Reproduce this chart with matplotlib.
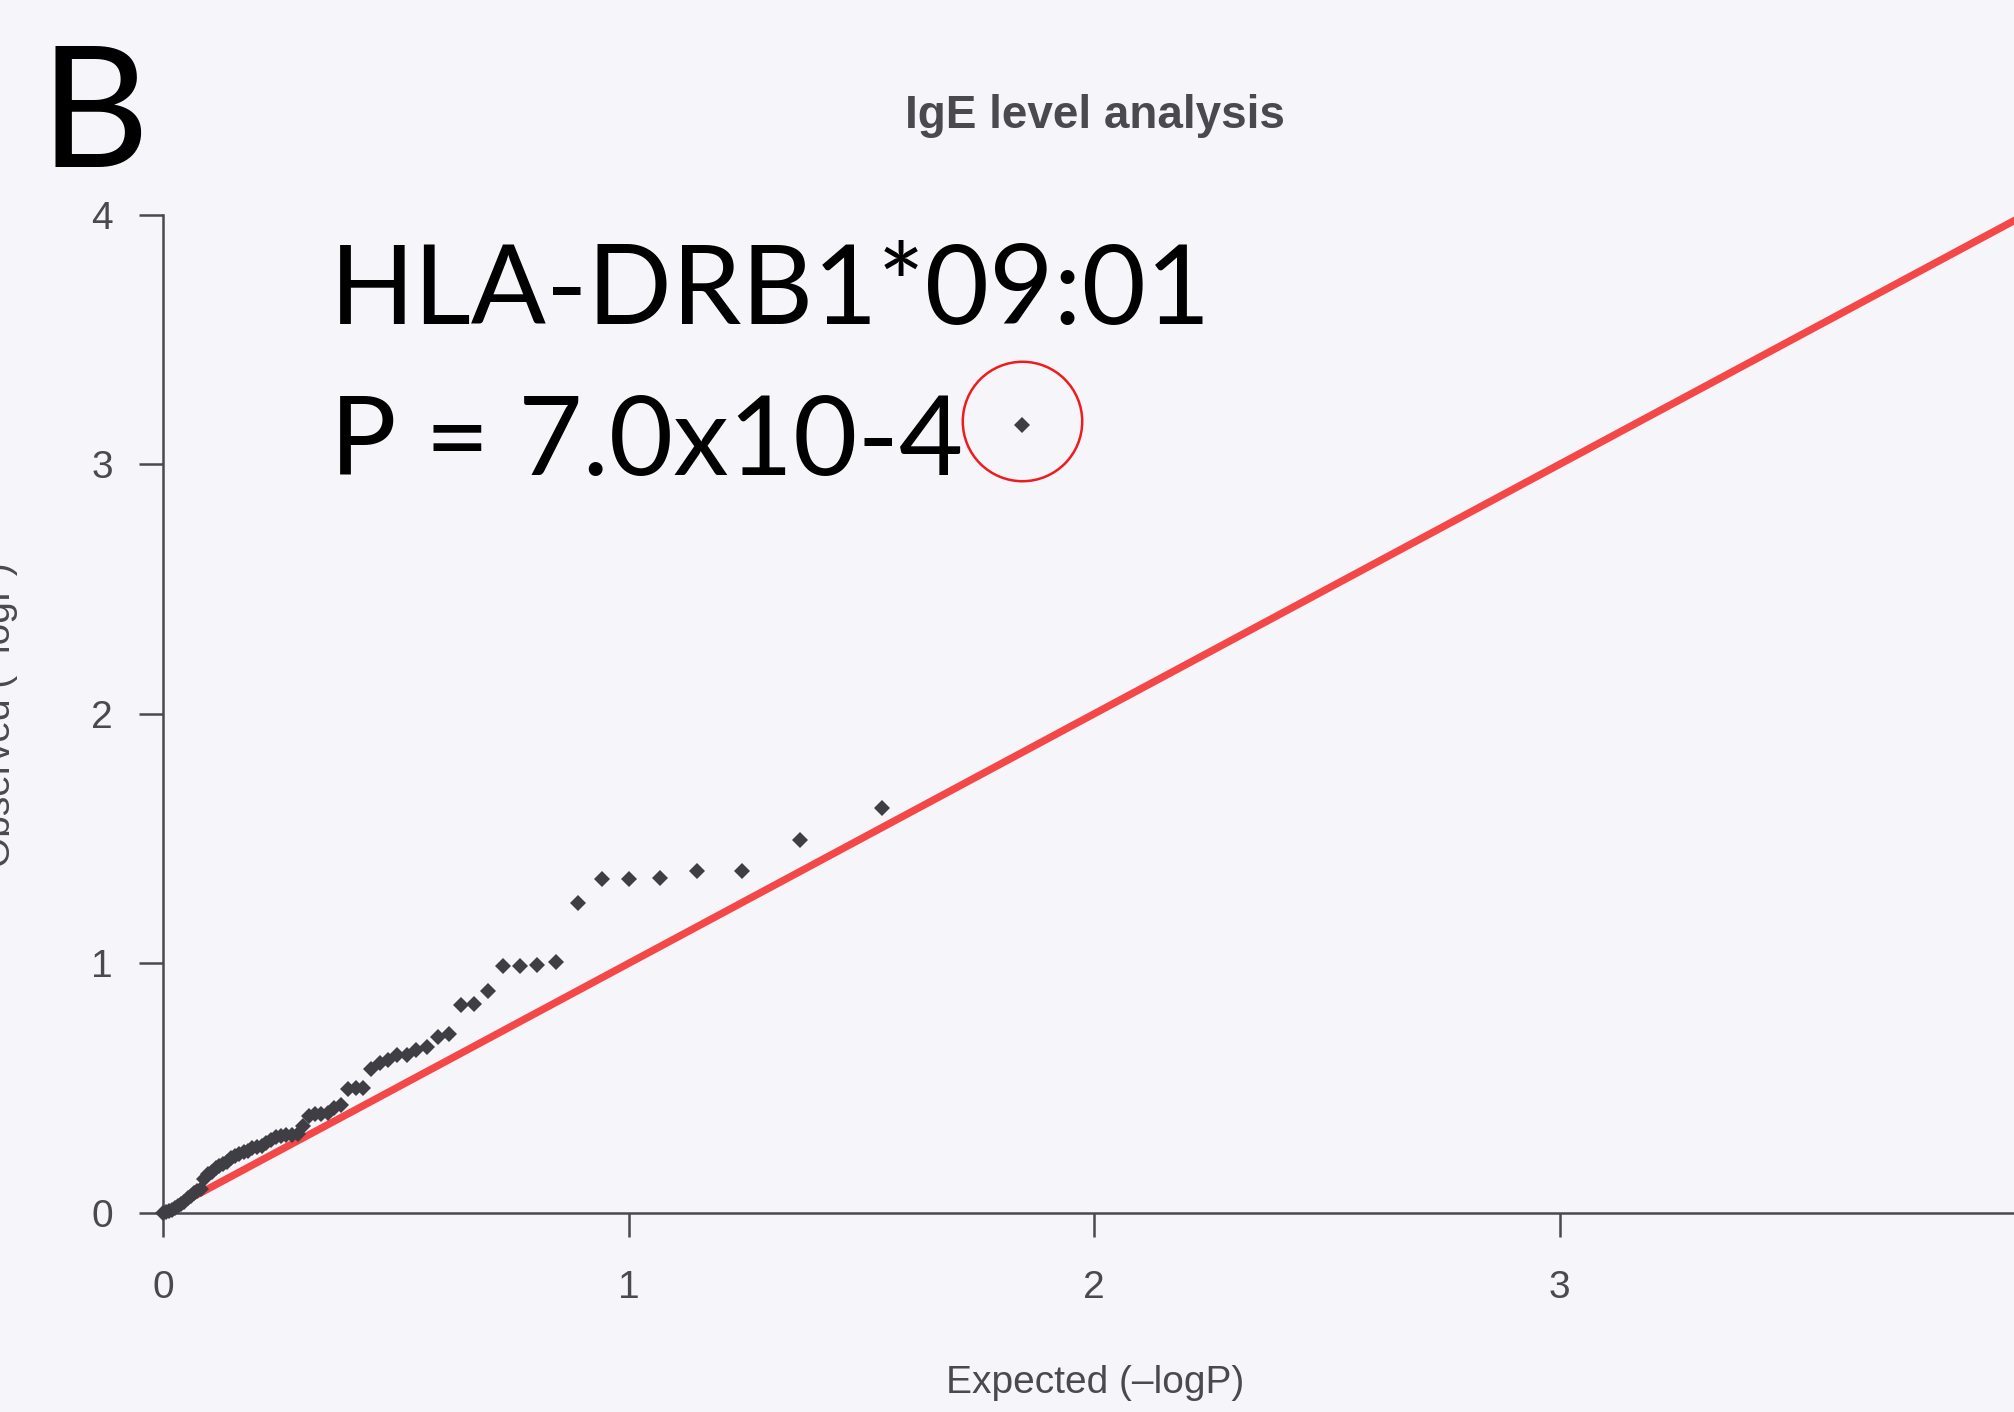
import matplotlib
matplotlib.use('Agg')
import matplotlib.pyplot as plt

# QQ plot values (70 alleles)
expected = [1.845, 1.544, 1.368, 1.243, 1.146, 1.067, 1.000, 0.942, 0.891, 0.845,
            0.804, 0.766, 0.731, 0.699, 0.669, 0.641, 0.615, 0.590, 0.567, 0.544,
            0.523, 0.503, 0.483, 0.465, 0.447, 0.430, 0.414, 0.398, 0.383, 0.368,
            0.354, 0.340, 0.326, 0.314, 0.301, 0.289, 0.277, 0.265, 0.254, 0.243,
            0.232, 0.222, 0.212, 0.202, 0.192, 0.182, 0.173, 0.164, 0.155, 0.146,
            0.137, 0.129, 0.121, 0.113, 0.105, 0.097, 0.089, 0.082, 0.074, 0.067,
            0.060, 0.053, 0.046, 0.039, 0.032, 0.026, 0.019, 0.013, 0.006, 0.000]
observed = [3.156, 1.621, 1.494, 1.371, 1.371, 1.344, 1.339, 1.339, 1.240, 1.004,
            0.994, 0.989, 0.989, 0.890, 0.838, 0.835, 0.718, 0.706, 0.666, 0.653,
            0.633, 0.633, 0.613, 0.600, 0.575, 0.499, 0.499, 0.495, 0.433, 0.419,
            0.399, 0.397, 0.397, 0.390, 0.348, 0.315, 0.314, 0.312, 0.308, 0.303,
            0.292, 0.282, 0.268, 0.263, 0.260, 0.250, 0.245, 0.237, 0.230, 0.219,
            0.206, 0.198, 0.190, 0.180, 0.166, 0.155, 0.135, 0.098, 0.090, 0.080,
            0.070, 0.060, 0.045, 0.035, 0.028, 0.020, 0.012, 0.008, 0.004, 0.000]
x_ticks = [0, 1, 2, 3]
y_ticks = [0, 1, 2, 3, 4]

bg = '#f6f5fa'
axis_gray = '#4a4950'
point_col = '#403e45'
line_red = '#f44848'

fig = plt.figure(figsize=(20.15, 14.12), dpi=100, facecolor=bg)
ax = fig.add_axes([163 / 2015, 199 / 1412, 1852 / 2015, 998.4 / 1412])
ax.set_facecolor(bg)

# expected = observed reference line
ax.axline((0, 0), slope=1, color=line_red, linewidth=5.3, zorder=2)

ax.plot(expected, observed, linestyle='none', marker='D', markersize=8,
        markeredgewidth=0, color=point_col, clip_on=False, zorder=3)

# circle around the top allele
ax.plot(expected[0], observed[0] + 0.017, marker='o', markersize=86,
        markerfacecolor='none', markeredgecolor='#ee1c1c', markeredgewidth=1.8,
        linestyle='none', clip_on=False, zorder=4)

ax.set_xlim(0, 1852 / 465.6)
ax.set_ylim(0, 4)
ax.set_xticks(x_ticks)
ax.set_yticks(y_ticks)

for side in ['top', 'right']:
    ax.spines[side].set_visible(False)
for side in ['left', 'bottom']:
    ax.spines[side].set_color(axis_gray)
    ax.spines[side].set_linewidth(1.8)

ax.tick_params(axis='both', direction='out', length=17, width=1.8,
               color=axis_gray, labelcolor=axis_gray, labelsize=28)
ax.tick_params(axis='y', pad=19)
ax.tick_params(axis='x', pad=24)
for lab in ax.get_xticklabels() + ax.get_yticklabels():
    lab.set_fontfamily('Liberation Sans')

# labels and titles
fig.text(1095 / 2015, 1 - 1383 / 1412, 'Expected (\u2013logP)', ha='center', va='center',
         fontsize=28, color=axis_gray, family='Liberation Sans')
fig.text(18 / 2015, 0.494, 'Observed (\u2013logP)', rotation=90, ha='right', va='center',
         fontsize=28, color=axis_gray, family='Liberation Sans')
fig.text(1095 / 2015, 1 - 116 / 1412, 'IgE level analysis', ha='center', va='center',
         fontsize=33, fontweight='bold', color=axis_gray, family='Liberation Sans')

fig.text(40 / 2015, 1 - 167 / 1412, 'B', ha='left', va='baseline',
         fontsize=122, color='black', family='Lato')
fig.text(330 / 2015, 1 - 324 / 1412, 'HLA-DRB1*09:01', ha='left', va='baseline',
         fontsize=80, color='black', family='Lato')
fig.text(330 / 2015, 1 - 475 / 1412, 'P = 7.0x10-4', ha='left', va='baseline',
         fontsize=80, color='black', family='Lato')

fig.savefig('out.png', dpi=100, facecolor=bg)
